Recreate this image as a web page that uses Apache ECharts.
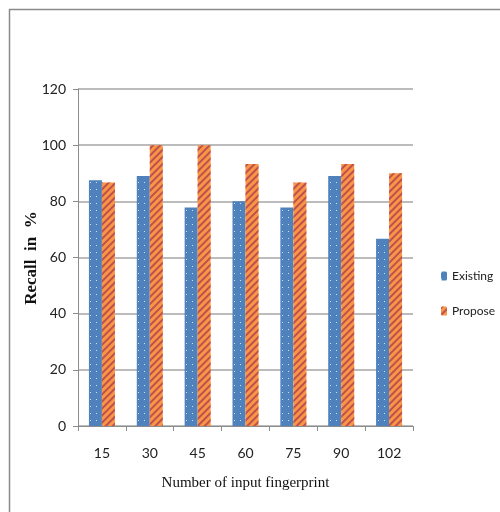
<!DOCTYPE html>
<html>
<head>
<meta charset="utf-8">
<script src="https://cdn.jsdelivr.net/npm/echarts@6/dist/echarts.min.js"></script>
<style>html,body{margin:0;padding:0;background:#fff}#c{width:500px;height:512px}</style>
</head>
<body>
<div id="c"></div>
<script>
const categories = ['15', '30', '45', '60', '75', '90', '102'];
const existing = [87.5, 89, 77.8, 80, 77.8, 89, 66.7];
const propose = [86.7, 100, 100, 93.3, 86.7, 93.3, 90];
const seriesNames = ['Existing', 'Propose'];
const yTicks = {min: 0, max: 120, interval: 20};
const yTitle = 'Recall  in  %';

const labelFont = "Lato, 'Open Sans', sans-serif";
const chart = echarts.init(document.getElementById('c'), null, {renderer: 'canvas'});
chart.setOption({
  animation: false,
  backgroundColor: '#fff',
  graphic: [{
    type: 'rect', left: 7, top: 7, silent: true,
    shape: {x: 0, y: 0, width: 600, height: 600},
    style: {fill: 'none', stroke: '#8a8a8a', lineWidth: 1.5}
  }, {
    type: 'text', x: 32, y: 258, rotation: Math.PI / 2, silent: true,
    style: {
      text: yTitle, align: 'center', verticalAlign: 'middle',
      font: "bold 17px 'Liberation Serif', serif", fill: '#111'
    }
  }],
  grid: {left: 78, right: 87, top: 89, bottom: 86, containLabel: false},
  legend: {
    orient: 'vertical', left: 436, top: 265, itemWidth: 6, itemHeight: 9, itemGap: 23,
    textStyle: {fontFamily: labelFont, fontSize: 12, color: '#222'},
    data: seriesNames
  },
  xAxis: {
    type: 'category', data: categories,
    name: 'Number of input fingerprint', nameLocation: 'middle', nameGap: 50,
    nameTextStyle: {fontFamily: "'Liberation Serif', serif", fontSize: 15, color: '#111'},
    axisLine: {lineStyle: {color: '#8c8c8c', width: 1}},
    axisTick: {show: true, length: 5, lineStyle: {color: '#8c8c8c'}},
    axisLabel: {margin: 20, fontFamily: labelFont, fontSize: 14, color: '#222'}
  },
  yAxis: {
    type: 'value', min: yTicks.min, max: yTicks.max, interval: yTicks.interval,
    axisLine: {show: true, lineStyle: {color: '#8c8c8c', width: 1}},
    axisTick: {show: true, length: 5, lineStyle: {color: '#8c8c8c'}},
    axisLabel: {margin: 12, fontFamily: labelFont, fontSize: 14, color: '#222'},
    splitLine: {lineStyle: {color: '#a6a6a6', width: 1.5}}
  },
  series: [{
    name: seriesNames[0], type: 'bar', data: existing, barWidth: 13, barGap: '0%',
    itemStyle: {
      color: '#4f81bd',
      decal: {symbol: 'rect', symbolSize: 1, dashArrayX: [1, 5], dashArrayY: [1, 6], color: 'rgba(255,255,255,0.75)'}
    }
  }, {
    name: seriesNames[1], type: 'bar', data: propose, barWidth: 13, barGap: '0%',
    itemStyle: {
      color: '#f79646',
      decal: {symbol: 'rect', symbolSize: 1, dashArrayX: [1, 0], dashArrayY: [2, 3], rotation: -Math.PI / 4, color: '#c0504d'}
    }
  }]
});
</script>
</body>
</html>
